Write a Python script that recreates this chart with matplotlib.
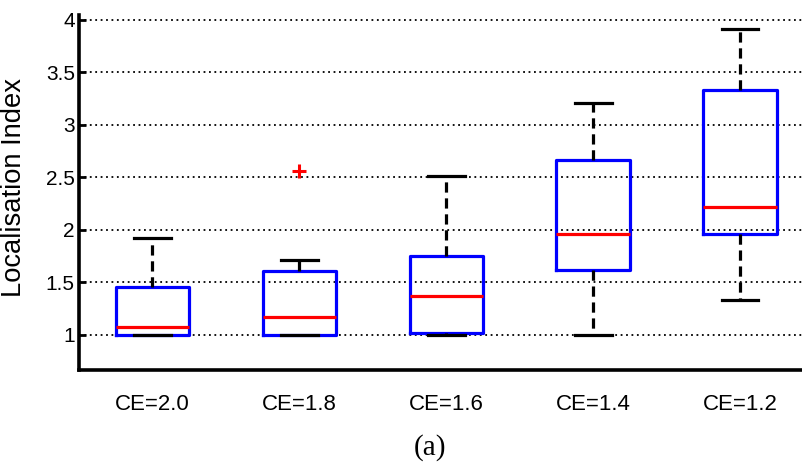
import matplotlib
matplotlib.use("Agg")
import matplotlib.pyplot as plt

# Localisation index summary per compression setting
categories = ["CE=2.0", "CE=1.8", "CE=1.6", "CE=1.4", "CE=1.2"]
medians = [1.07, 1.165, 1.37, 1.955, 2.215]
q1 = [1.0, 1.0, 1.01, 1.615, 1.96]
q3 = [1.455, 1.608, 1.748, 2.662, 3.328]
whisker_low = [1.0, 1.0, 1.0, 1.0, 1.332]
whisker_high = [1.916, 1.707, 2.512, 3.208, 3.907]
outliers = [[], [2.557], [], [], []]
y_ticks = [1, 1.5, 2, 2.5, 3, 3.5, 4]
y_tick_labels = ["1", "1.5", "2", "2.5", "3", "3.5", "4"]

stats = []
for i, name in enumerate(categories):
    stats.append(dict(label=name, med=medians[i], q1=q1[i], q3=q3[i],
                      whislo=whisker_low[i], whishi=whisker_high[i],
                      fliers=outliers[i]))

fig = plt.figure(figsize=(8.03, 4.68), dpi=100)
ax = fig.add_axes([79 / 803, 1 - 370 / 468, (813.5 - 79) / 803, (370 - 15) / 468])

ax.bxp(stats, positions=range(1, len(categories) + 1), widths=0.5,
       boxprops=dict(color="#0000ff", linewidth=2.3),
       medianprops=dict(color="#ff0000", linewidth=2.3),
       whiskerprops=dict(color="black", linewidth=2.3, linestyle=(0, (3.2, 1.8))),
       capprops=dict(color="black", linewidth=2.3),
       flierprops=dict(marker="+", markeredgecolor="#ff0000", markersize=10,
                       markeredgewidth=2.2, linestyle="none"),
       zorder=3)

ax.set_xlim(0.5, 5.5)
ax.set_ylim(0.662, 4.043)
ax.set_yticks(y_ticks)
ax.set_yticklabels(y_tick_labels)

ax.yaxis.grid(True, color="black", linestyle=(0, (1, 2)), linewidth=1.3)
ax.set_axisbelow(True)

for side in ("top", "right"):
    ax.spines[side].set_visible(False)
for side in ("left", "bottom"):
    ax.spines[side].set_linewidth(2.6)

font = "Liberation Sans"
ax.tick_params(axis="y", direction="in", length=5, width=2, labelsize=15, pad=3)
ax.tick_params(axis="x", length=0, labelsize=16, pad=17)
for lbl in ax.get_yticklabels() + ax.get_xticklabels():
    lbl.set_fontfamily(font)

ax.set_ylabel("Localisation Index", fontsize=19.7, fontfamily=font, labelpad=6)
ax.yaxis.set_label_coords(-0.071, 0.513)

fig.text(430 / 803, 1 - 448 / 468, "(a)", fontsize=21, fontfamily="Liberation Serif",
         ha="center", va="center")

fig.savefig("out.png", dpi=100)
